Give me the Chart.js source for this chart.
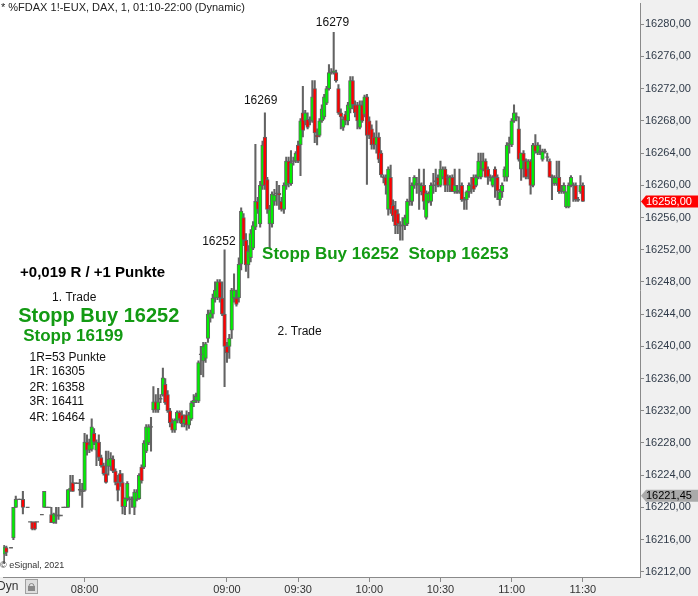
<!DOCTYPE html>
<html>
<head>
<meta charset="utf-8">
<script src="https://cdn.jsdelivr.net/npm/chart.js@4.4.1/dist/chart.umd.min.js"></script>
<style>
  html, body { margin: 0; padding: 0; background: #fff; }
  #wrap { width: 698px; height: 596px; }
</style>
</head>
<body>
<div id="wrap"><canvas id="chart" width="698" height="596"></canvas></div>
<script>
// 1-minute FDAX bars, first bar at 07:26, one value per minute (null = no trade)
const firstBar = "07:26";

const opens = [
  16214.2, 16215, null, 16215, 16216.2, 16220, 16221, 16221, 16221, null,
  16220, 16218.2, 16218.2, 16218.2, 16218.2, null, 16219.1, 16220, 16220, 16220,
  16219.1, 16218.1, 16219, 16219, 16219, 16220, 16220, 16220, 16222.2, 16223.1,
  16223, 16223, 16222.2, 16222, 16222.1, 16228.1, 16227.1, 16227.2, 16229.2, 16227.1,
  16228.1, 16226.2, 16225.2, 16224.2, 16225.1, 16225.1, 16226, 16224.5, 16223.1, 16224.2,
  16223.1, 16220.1, 16221.1, 16221, 16221, 16220, 16221, 16221.1, 16225, 16225,
  16227, 16228, 16230, 16232.1, 16233.1, 16232.1, 16233.5, 16234, 16235.3, 16234,
  16232, 16230.5, 16229.6, 16230.8, 16231.8, 16231.5, 16230.4, 16231.5, 16230.2, 16231,
  16233, 16233.3, 16233.2, 16239, 16238.2, 16238.5, 16241, 16243.5, 16244, 16246,
  16246, 16248, 16246, 16244, 16240, 16240, 16242, 16246, 16246, 16246,
  16250.2, 16256, 16253.2, 16250.1, 16251, 16252.2, 16254.8, 16258, 16255.2, 16260,
  16266, 16260.7, 16255.2, 16255.2, 16258, 16259, 16259, 16258, 16257, 16260,
  16263, 16260.2, 16263, 16263, 16265, 16265, 16269, 16268, 16268.2, 16268,
  16268, 16272, 16266.2, 16266.2, 16268, 16268.5, 16270.2, 16272, 16274, 16274,
  16274, 16272, 16269, 16267.2, 16268.8, 16268, 16269.5, 16273, 16270, 16270,
  16267.2, 16270, 16268.8, 16271, 16268, 16267, 16266, 16265, 16266, 16264,
  16261, 16261, 16257, 16261, 16257.5, 16257, 16256.5, 16255, 16255, 16255,
  16255.2, 16258, 16258, 16260, 16260.2, 16260, 16259.2, 16260, 16256, 16258,
  16258, 16260, 16260.5, 16261, 16260, 16261, 16262, 16261, 16260, 16261,
  16259.2, 16259.2, 16259.2, 16260, 16258.2, 16258.2, 16259.2, 16260, 16261, 16260,
  16261, 16261, 16262, 16263, 16262, 16261, 16260, 16262, 16261, 16258.2,
  16259.2, 16261, 16261, 16265, 16265, 16268, 16268.5, 16267, 16262, 16264,
  16263, 16262, 16263, 16260, 16265, 16264, 16264.2, 16263.2, 16264.2, 16263.5,
  16263, 16261, 16260.2, 16260.2, 16261, 16259.5, 16259.2, 16257.3, 16257.3, 16260,
  16260, 16260, 16258.2, 16259.2, 16260
];
const highs = [
  16215.3, 16215.2, null, 16215, 16220, 16221.4, 16221, 16221, 16222, null,
  16220, 16218.2, 16218.2, 16218.2, 16218.2, null, 16219.1, 16222, 16220, 16220,
  16220, 16219.3, 16220, 16220, 16219, 16220, 16220, 16222.2, 16224, 16224,
  16223, 16223, 16223.5, 16223, 16229.2, 16229, 16228.5, 16231, 16229.8, 16228.4,
  16229, 16226.5, 16225.5, 16227, 16227, 16226.8, 16226.4, 16224.8, 16224, 16224.6,
  16224.2, 16221.2, 16223.2, 16221.3, 16221.3, 16222.2, 16222.2, 16224.2, 16225.3, 16228.3,
  16230.3, 16230.3, 16231.2, 16235, 16234, 16234.8, 16234, 16237.3, 16236, 16234.5,
  16232.3, 16231, 16231, 16232, 16232, 16232, 16231.5, 16232, 16231.8, 16233.2,
  16234, 16234.2, 16238.2, 16240, 16240.5, 16240.5, 16244.5, 16244.5, 16246.5, 16248,
  16248.3, 16248.3, 16248, 16252, 16240.5, 16241.5, 16247.2, 16249, 16247, 16251,
  16257.2, 16256.5, 16254, 16252.5, 16254.5, 16255.5, 16265.1, 16258.5, 16260.5, 16265.5,
  16269, 16261, 16257.5, 16259.2, 16259.5, 16260.5, 16260, 16258.5, 16260.3, 16263.5,
  16263.5, 16264.3, 16263.5, 16264.2, 16265.5, 16268.3, 16272.3, 16269.3, 16269, 16268.5,
  16273, 16273, 16267, 16268.3, 16270, 16271.3, 16272.3, 16275, 16274.5, 16279,
  16274.3, 16272.5, 16269.5, 16268.5, 16269.2, 16270.3, 16273.5, 16273.5, 16270.5, 16270.3,
  16270.5, 16270.5, 16271.2, 16271.3, 16268.5, 16267.5, 16266.5, 16268, 16266.5, 16264.3,
  16261.3, 16261.3, 16262.3, 16262.5, 16258.2, 16258, 16257, 16255.5, 16256, 16256.3,
  16258.3, 16261, 16260.3, 16261.2, 16261, 16262, 16260.3, 16262, 16259.3, 16259.2,
  16260.3, 16261.5, 16262, 16261.3, 16263, 16262.3, 16262.3, 16261.3, 16261.2, 16261.3,
  16262, 16260, 16262, 16260.3, 16258.5, 16259.3, 16260.3, 16261, 16261.3, 16261.3,
  16264, 16264, 16264, 16263.3, 16262.3, 16261.3, 16261.2, 16262.3, 16261.3, 16259.5,
  16260.3, 16262.3, 16265.3, 16266, 16268.3, 16270, 16269, 16268.5, 16264, 16264.3,
  16263.3, 16263.2, 16263.2, 16265.2, 16266.3, 16265.3, 16265, 16264.5, 16264.5, 16264,
  16263.3, 16261.3, 16261.2, 16263, 16263, 16260, 16260.3, 16259.2, 16260.3, 16261.2,
  16260.3, 16260.3, 16258.5, 16261.2, 16260.3
];
const lows = [
  16213, 16214, null, 16215, 16216, 16220, 16221, 16221, 16219.2, null,
  16220, 16218.2, 16217.2, 16217.2, 16218.2, null, 16219.1, 16220, 16220, 16220,
  16218.1, 16218, 16218, 16218.5, 16219, 16220, 16220, 16220, 16222, 16222,
  16223, 16223, 16221.5, 16220, 16222, 16226.5, 16226.8, 16227, 16227.8, 16225.2,
  16225.8, 16225, 16224, 16223, 16224, 16224.6, 16224.3, 16222.8, 16220.8, 16222.6,
  16219.2, 16219.1, 16220.8, 16219.2, 16220, 16219.1, 16220.8, 16221, 16223, 16224.8,
  16226.8, 16227.8, 16227, 16231.8, 16231.8, 16231.8, 16233, 16233.8, 16232.8, 16231.8,
  16230, 16229.3, 16229.3, 16230.5, 16230.5, 16230, 16230, 16229.6, 16229.8, 16230.8,
  16232.5, 16233, 16233, 16236.5, 16236.2, 16238, 16240.5, 16243, 16243.5, 16245.5,
  16245.8, 16245.5, 16243.8, 16235, 16238, 16238.5, 16241, 16245.5, 16245, 16245.5,
  16249.5, 16252.5, 16249.3, 16248.5, 16250.5, 16252, 16254.5, 16256.5, 16254.8, 16259.5,
  16259.5, 16256.5, 16252.2, 16254.8, 16257.5, 16257.5, 16257, 16256.8, 16256.5, 16259.5,
  16259.8, 16260, 16262.5, 16262.8, 16262.8, 16261.2, 16266, 16267.5, 16267, 16267.5,
  16267.8, 16265.3, 16265, 16266, 16267.8, 16268.2, 16270, 16271.8, 16273.8, 16273.8,
  16272.8, 16268.8, 16267, 16266.8, 16267.5, 16267.5, 16269, 16269.5, 16268.5, 16267,
  16267, 16267.8, 16268.5, 16260.1, 16265.8, 16264.5, 16264.5, 16264, 16262.8, 16261,
  16260.3, 16258.9, 16256.3, 16256.5, 16255.5, 16254, 16254, 16253.2, 16253.2, 16254.5,
  16255, 16257.5, 16257.5, 16259.6, 16259, 16257, 16258.8, 16257, 16255.8, 16257.8,
  16257.5, 16259, 16259.2, 16259.8, 16259.8, 16260.8, 16259.2, 16259.2, 16259.2, 16259.2,
  16259, 16259, 16259, 16258, 16257, 16257, 16258.5, 16259, 16259.2, 16259.8,
  16260.8, 16260.8, 16261.8, 16261, 16260.1, 16260.5, 16259.8, 16258.5, 16258.2, 16257.5,
  16258.5, 16260.5, 16260.5, 16264, 16264.8, 16267.8, 16268, 16263, 16260.6, 16261,
  16260.8, 16260.8, 16258.9, 16259.8, 16264, 16263.8, 16263.8, 16263, 16264, 16263,
  16261, 16258.2, 16260, 16260, 16259, 16259, 16259, 16257.2, 16257.2, 16259.8,
  16258, 16258, 16258, 16259, 16258
];
const closes = [
  16215.1, 16214.4, null, 16215, 16220, 16221, 16221, 16221, 16220, null,
  16220, 16218.2, 16217.3, 16217.3, 16218.2, null, 16219.1, 16222, 16220, 16220,
  16218.1, 16219.2, 16219, 16219, 16219, 16220, 16220, 16222.2, 16222.4, 16222,
  16223, 16223, 16222.2, 16222, 16228.1, 16227.1, 16227.8, 16230, 16228.1, 16228.1,
  16226.2, 16225.2, 16224.2, 16223.1, 16226, 16226.1, 16224.5, 16223.1, 16222.1, 16223.1,
  16220.1, 16221.1, 16223, 16221, 16221, 16221.9, 16221.9, 16224, 16223.3, 16228,
  16230, 16230, 16230, 16233.1, 16232.1, 16233.1, 16233.5, 16236.1, 16233, 16232,
  16230.5, 16229.6, 16230.8, 16231.8, 16231, 16230.4, 16231, 16230.2, 16231.5, 16233,
  16233.3, 16233.8, 16238, 16239, 16240, 16240.3, 16244, 16244.2, 16246, 16247,
  16248, 16246, 16244, 16240, 16239.2, 16241, 16247, 16247, 16245.2, 16250.2,
  16256.8, 16253.2, 16250.1, 16251.8, 16254, 16255, 16258, 16257, 16260, 16265,
  16260, 16257, 16257, 16258.9, 16258.8, 16259, 16258.8, 16257, 16260, 16263,
  16260.2, 16262.8, 16263, 16264, 16263, 16268, 16266.8, 16269, 16267.2, 16268,
  16271, 16266.5, 16266, 16268, 16269.5, 16271, 16272, 16274, 16274, 16274.2,
  16273, 16269, 16268.5, 16268.2, 16268, 16270, 16273, 16270, 16269, 16268,
  16270, 16268, 16271, 16266.2, 16266.2, 16265, 16265, 16266, 16263.2, 16261.3,
  16261, 16260, 16262, 16257, 16256.2, 16255, 16255.2, 16255, 16255, 16256,
  16258, 16258, 16260, 16261, 16260.2, 16260.2, 16260, 16258, 16259, 16259,
  16260, 16260, 16260.5, 16260, 16262, 16262, 16260, 16261, 16261, 16259.2,
  16260, 16259.2, 16259.4, 16258.2, 16258.2, 16259.2, 16260, 16260, 16259.5, 16261,
  16263, 16262, 16263, 16261, 16261, 16261, 16261, 16261, 16259.3, 16259.2,
  16260, 16262, 16265, 16265.2, 16268, 16269, 16268.5, 16263.2, 16264, 16263,
  16261, 16263, 16260, 16265, 16264.2, 16265, 16264.2, 16264.2, 16264.2, 16263.5,
  16261, 16261, 16261, 16261, 16259.2, 16259.5, 16260, 16259.2, 16260, 16261,
  16260, 16258.2, 16258.2, 16260, 16258
];

const timeTicks = ["08:00", "09:00", "09:30", "10:00", "10:30", "11:00", "11:30"];
const priceTicks = [16212, 16216, 16220, 16224, 16228, 16232, 16236, 16240, 16244,
                    16248, 16252, 16256, 16260, 16264, 16268, 16272, 16276, 16280];
const refPrice = 16221.45;

// text notes, anchored in (bar index, price)
const notes = [
  { text: "16279", x: 138.5, y: 16280.2, font: "12px", color: "#111", align: "center" },
  { text: "16269", x: 108.2, y: 16270.5, font: "12px", color: "#111", align: "center" },
  { text: "16252", x: 90.6, y: 16253.0, font: "12px", color: "#111", align: "center" },
  { text: "Stopp Buy 16252  Stopp 16253", x: 108.8, y: 16251.4, font: "bold 17px", color: "#139a13", align: "left" },
  { text: "+0,019 R / +1 Punkte", x: 6.8, y: 16249.1, font: "bold 15px", color: "#000", align: "left" },
  { text: "1. Trade", x: 20.3, y: 16246.0, font: "12px", color: "#111", align: "left" },
  { text: "Stopp Buy 16252", x: 6.0, y: 16243.7, font: "bold 20px", color: "#139a13", align: "left" },
  { text: "Stopp 16199", x: 8.1, y: 16241.2, font: "bold 17px", color: "#139a13", align: "left" },
  { text: "1R=53 Punkte", x: 10.8, y: 16238.6, font: "12px", color: "#111", align: "left" },
  { text: "1R: 16305", x: 10.8, y: 16236.8, font: "12px", color: "#111", align: "left" },
  { text: "2R: 16358", x: 10.8, y: 16234.9, font: "12px", color: "#111", align: "left" },
  { text: "3R: 16411", x: 10.8, y: 16233.1, font: "12px", color: "#111", align: "left" },
  { text: "4R: 16464", x: 10.8, y: 16231.2, font: "12px", color: "#111", align: "left" },
  { text: "2. Trade", x: 115.3, y: 16241.85, font: "12px", color: "#111", align: "left" }
];

const UP = "#00f000";
const DOWN = "#ff0000";
const GRAY = "#636363";
const FONT = '"Liberation Sans", Arial, sans-serif';

const toMin = s => { const p = s.split(":").map(Number); return p[0] * 60 + p[1]; };
const t0 = toMin(firstBar);
const pad = n => String(n).padStart(2, "0");

// split bars into wick, body and doji marks
const wicks = [], bodies = [], bodyColors = [], dojis = [];
opens.forEach((o, i) => {
  if (o === null) return;
  const h = highs[i], l = lows[i], c = closes[i];
  if (h > l) wicks.push({ x: i, y: [l, h] });
  if (c !== o) {
    bodies.push({ x: i, y: [o, c] });
    bodyColors.push(c > o ? UP : DOWN);
  } else {
    dojis.push({ x: i, y: o });
  }
});
const lastPrice = closes[closes.length - 1];

const fmt = v => v.toFixed(2).replace(".", ",");

const extras = {
  id: "extras",
  beforeDraw(chart) {
    const { ctx, chartArea: a, width, height } = chart;
    ctx.save();
    ctx.fillStyle = "#fff";
    ctx.fillRect(0, 0, width, height);
    ctx.fillStyle = "#f0f0f0";
    ctx.fillRect(a.right, 0, width - a.right, height);
    ctx.fillRect(0, a.bottom, width, height - a.bottom);
    ctx.restore();
  },
  afterDraw(chart) {
    const { ctx, chartArea: a, scales: { x, y } } = chart;
    ctx.save();
    ctx.textBaseline = "middle";

    // title + copyright
    ctx.font = "11px " + FONT;
    ctx.fillStyle = "#222";
    ctx.textAlign = "left";
    ctx.fillText("* %FDAX 1!-EUX, DAX, 1, 01:10-22:00 (Dynamic)", 1, 8);
    ctx.font = "9px " + FONT;
    ctx.fillStyle = "#333";
    ctx.fillText("\u00a9 eSignal, 2021", 0, a.bottom - 11);

    // notes
    notes.forEach(n => {
      ctx.font = n.font + " " + FONT;
      ctx.fillStyle = n.color;
      ctx.textAlign = n.align;
      ctx.fillText(n.text, x.getPixelForValue(n.x), y.getPixelForValue(n.y));
    });

    // price tags on the axis
    const tag = (v, fill, color) => {
      const py = y.getPixelForValue(v);
      const r = a.right + 1;
      ctx.fillStyle = fill;
      ctx.beginPath();
      ctx.moveTo(r, py);
      ctx.lineTo(r + 5, py - 6);
      ctx.lineTo(chart.width, py - 6);
      ctx.lineTo(chart.width, py + 6);
      ctx.lineTo(r + 5, py + 6);
      ctx.closePath();
      ctx.fill();
      ctx.font = "11px " + FONT;
      ctx.fillStyle = color;
      ctx.textAlign = "left";
      ctx.fillText(fmt(v), r + 5, py + 0.5);
    };
    tag(lastPrice, "#ff0000", "#fff");
    tag(refPrice, "#aaaaaa", "#000");

    // bottom-left controls
    ctx.font = "12px " + FONT;
    ctx.fillStyle = "#333";
    ctx.textAlign = "left";
    ctx.fillText("Dyn", -3, a.bottom + 10);
    ctx.fillStyle = "#dedede";
    ctx.strokeStyle = "#a0a0a0";
    ctx.fillRect(25.5, a.bottom + 2.5, 12, 14);
    ctx.strokeRect(25.5, a.bottom + 2.5, 12, 14);
    ctx.fillStyle = "#888";
    ctx.fillRect(28, a.bottom + 9, 7, 5);
    ctx.strokeStyle = "#888";
    ctx.beginPath();
    ctx.arc(31.5, a.bottom + 9, 2.5, Math.PI, 0);
    ctx.stroke();
    ctx.restore();
  }
};

new Chart(document.getElementById("chart"), {
  type: "bar",
  data: {
    datasets: [
      {
        data: wicks,
        backgroundColor: GRAY,
        borderWidth: 0,
        barThickness: 1.4,
        grouped: false,
        order: 3
      },
      {
        data: bodies,
        backgroundColor: bodyColors,
        borderColor: GRAY,
        borderWidth: 1,
        borderSkipped: false,
        barThickness: 3.6,
        grouped: false,
        order: 2
      },
      {
        type: "line",
        data: dojis,
        showLine: false,
        pointStyle: "line",
        pointRadius: 1.9,
        pointHoverRadius: 1.9,
        pointBorderColor: GRAY,
        pointBorderWidth: 1.4,
        order: 1
      }
    ]
  },
  options: {
    responsive: false,
    animation: false,
    events: [],
    layout: { padding: 0 },
    plugins: { legend: { display: false }, tooltip: { enabled: false } },
    scales: {
      x: {
        type: "linear",
        min: -0.26,
        max: 268.1,
        offset: false,
        grid: { offset: false, drawOnChartArea: false, drawTicks: true, tickLength: 5, color: "#8a8a8a" },
        border: { color: "#8a8a8a" },
        ticks: {
          autoSkip: false,
          maxRotation: 0,
          padding: 1,
          color: "#333",
          font: { family: FONT, size: 11 },
          callback: v => { const m = v + t0; return pad(Math.floor(m / 60)) + ":" + pad(m % 60); }
        },
        afterBuildTicks: s => { s.ticks = timeTicks.map(t => ({ value: toMin(t) - t0 })); },
        afterFit: s => { s.height = 19; s.paddingLeft = 0; s.paddingRight = 0; }
      },
      y: {
        position: "right",
        min: 16211.36,
        max: 16282.6,
        grid: { drawOnChartArea: false, drawTicks: true, tickLength: 4, color: "#8a8a8a" },
        border: { color: "#8a8a8a" },
        ticks: {
          padding: 1,
          color: "#2f3a48",
          font: { family: FONT, size: 11 },
          callback: v => fmt(v)
        },
        afterBuildTicks: s => { s.ticks = priceTicks.map(v => ({ value: v })); },
        afterFit: s => { s.width = 58; s.paddingTop = 0; s.paddingBottom = 0; }
      }
    }
  },
  plugins: [extras]
});
</script>
</body>
</html>
